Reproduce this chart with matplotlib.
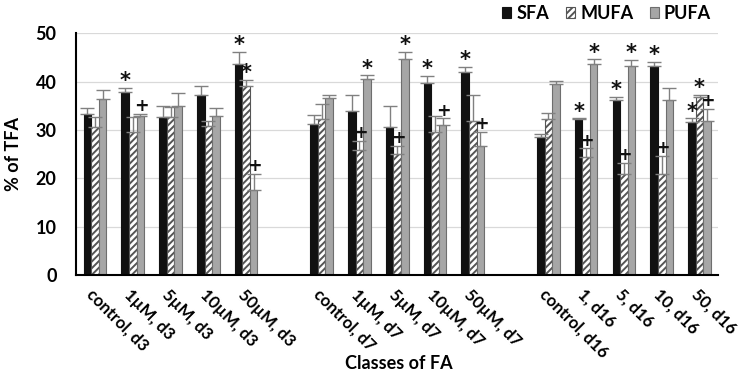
import matplotlib
matplotlib.use("Agg")
import matplotlib.pyplot as plt
import numpy as np

plt.rcParams["font.family"] = ["Lato", "DejaVu Sans"]
plt.rcParams["font.weight"] = "bold"
plt.rcParams["hatch.linewidth"] = 1.4

# categories (blank entries separate the days)
labels = ["control, d3", "1µM, d3", "5µM, d3", "10µM, d3", "50µM, d3", "",
          "control, d7", "1µM, d7", "5µM, d7", "10µM, d7", "50µM, d7", "",
          "control, d16", "1, d16", "5, d16", "10, d16", "50, d16"]

# values (nan = empty slot)
sfa = [33.2, 37.9, 32.6, 37.2, 43.7, np.nan,
       31.3, 34.0, 30.7, 39.7, 41.9, np.nan,
       28.6, 32.2, 36.2, 43.2, 31.6]
mufa = [30.6, 29.5, 32.6, 30.8, 39.1, np.nan,
        32.2, 25.9, 25.0, 29.5, 31.9, np.nan,
        32.2, 24.5, 20.8, 20.8, 36.8]
pufa = [36.3, 32.8, 35.0, 32.9, 17.6, np.nan,
        36.7, 40.5, 44.6, 31.0, 26.6, np.nan,
        39.4, 43.6, 43.2, 36.1, 31.9]

# upper error bar heights
sfa_err = [1.3, 0.8, 2.4, 1.8, 2.5, np.nan,
           1.7, 3.2, 4.3, 1.5, 1.2, np.nan,
           0.6, 0.2, 0.7, 0.9, 0.8]
mufa_err = [2.0, 3.1, 2.1, 1.1, 1.2, np.nan,
            3.2, 1.9, 1.7, 3.3, 5.3, np.nan,
            1.4, 1.7, 2.4, 3.8, 0.4]
pufa_err = [2.0, 0.5, 2.6, 1.6, 3.3, np.nan,
            0.5, 0.8, 1.5, 1.4, 3.0, np.nan,
            0.7, 1.0, 1.3, 2.5, 2.4]

# significance marks per series ("" = none)
sfa_mark = ["", "*", "", "", "*", "",
            "", "", "", "*", "*", "",
            "", "*", "*", "*", "*"]
mufa_mark = ["", "", "", "", "*", "",
             "", "+", "+", "", "", "",
             "", "+", "+", "+", "*"]
pufa_mark = ["", "+", "", "", "+", "",
             "", "*", "*", "+", "+", "",
             "", "*", "*", "", "+"]

x = np.arange(len(labels))
w = 0.2

fig = plt.figure(figsize=(7.46, 3.81), dpi=100)
ax = fig.add_axes([0.102, 0.278, 0.861, 0.635])

series = [
    ("SFA", sfa, sfa_err, sfa_mark, -w, dict(color="#111111", edgecolor="#111111")),
    ("MUFA", mufa, mufa_err, mufa_mark, 0, dict(color="white", edgecolor="#555555", hatch="/////")),
    ("PUFA", pufa, pufa_err, pufa_mark, w, dict(color="#a6a6a6", edgecolor="#6e6e6e")),
]

for name, vals, err, marks, off, style in series:
    vals = np.array(vals)
    err = np.array(err)
    ax.bar(x + off, vals, w, label=name, linewidth=0.8, zorder=2, **style)
    ax.errorbar(x + off, vals, yerr=[np.zeros_like(err), err], fmt="none",
                ecolor="#808080", elinewidth=1.0, capsize=5, capthick=1.0, zorder=3)
    for xi, v, e, m in zip(x, vals, err, marks):
        if m == "*":
            ax.annotate("*", (xi + off, v + e), xytext=(0, 0.5), textcoords="offset points",
                        ha="center", va="baseline", fontsize=15, fontweight="bold",
                        family="DejaVu Sans", color="#111111")
        elif m == "+":
            ax.annotate("+", (xi + off, v + e), xytext=(0.5, 2), textcoords="offset points",
                        ha="center", va="baseline", fontsize=12.5, fontweight="bold",
                        family="DejaVu Sans", color="#111111")

ax.set_xlim(-0.5, len(labels) - 0.5)
ax.set_ylim(0, 50)
ax.set_yticks([0, 10, 20, 30, 40, 50])
ax.yaxis.grid(True, color="#d9d9d9", linewidth=0.9, zorder=0)
ax.set_axisbelow(True)
ax.spines["top"].set_visible(False)
ax.spines["right"].set_visible(False)
ax.spines["left"].set_linewidth(1.5)
ax.spines["bottom"].set_linewidth(1.5)
ax.tick_params(axis="y", length=0, labelsize=13, pad=14)
ax.tick_params(axis="x", length=0, labelsize=12, pad=8)
ax.set_xticks(x)
ax.set_xticklabels(labels, rotation=-45, ha="left", va="top", rotation_mode="anchor")
for t in ax.get_xticklabels():
    t.set_fontweight("bold")
for t in ax.get_yticklabels():
    t.set_fontweight("bold")

ax.set_ylabel("% of TFA", fontsize=13, fontweight="bold", labelpad=10)
fig.text(0.535, 0.045, "Classes of FA", ha="center", va="center", fontsize=13, fontweight="bold")

ax.legend(loc="upper right", bbox_to_anchor=(0.975, 1.03), bbox_transform=fig.transFigure,
          ncol=3, frameon=False, fontsize=13, handlelength=0.5, handleheight=0.5,
          columnspacing=0.9, handletextpad=0.3)

fig.savefig("out.png", dpi=100)
